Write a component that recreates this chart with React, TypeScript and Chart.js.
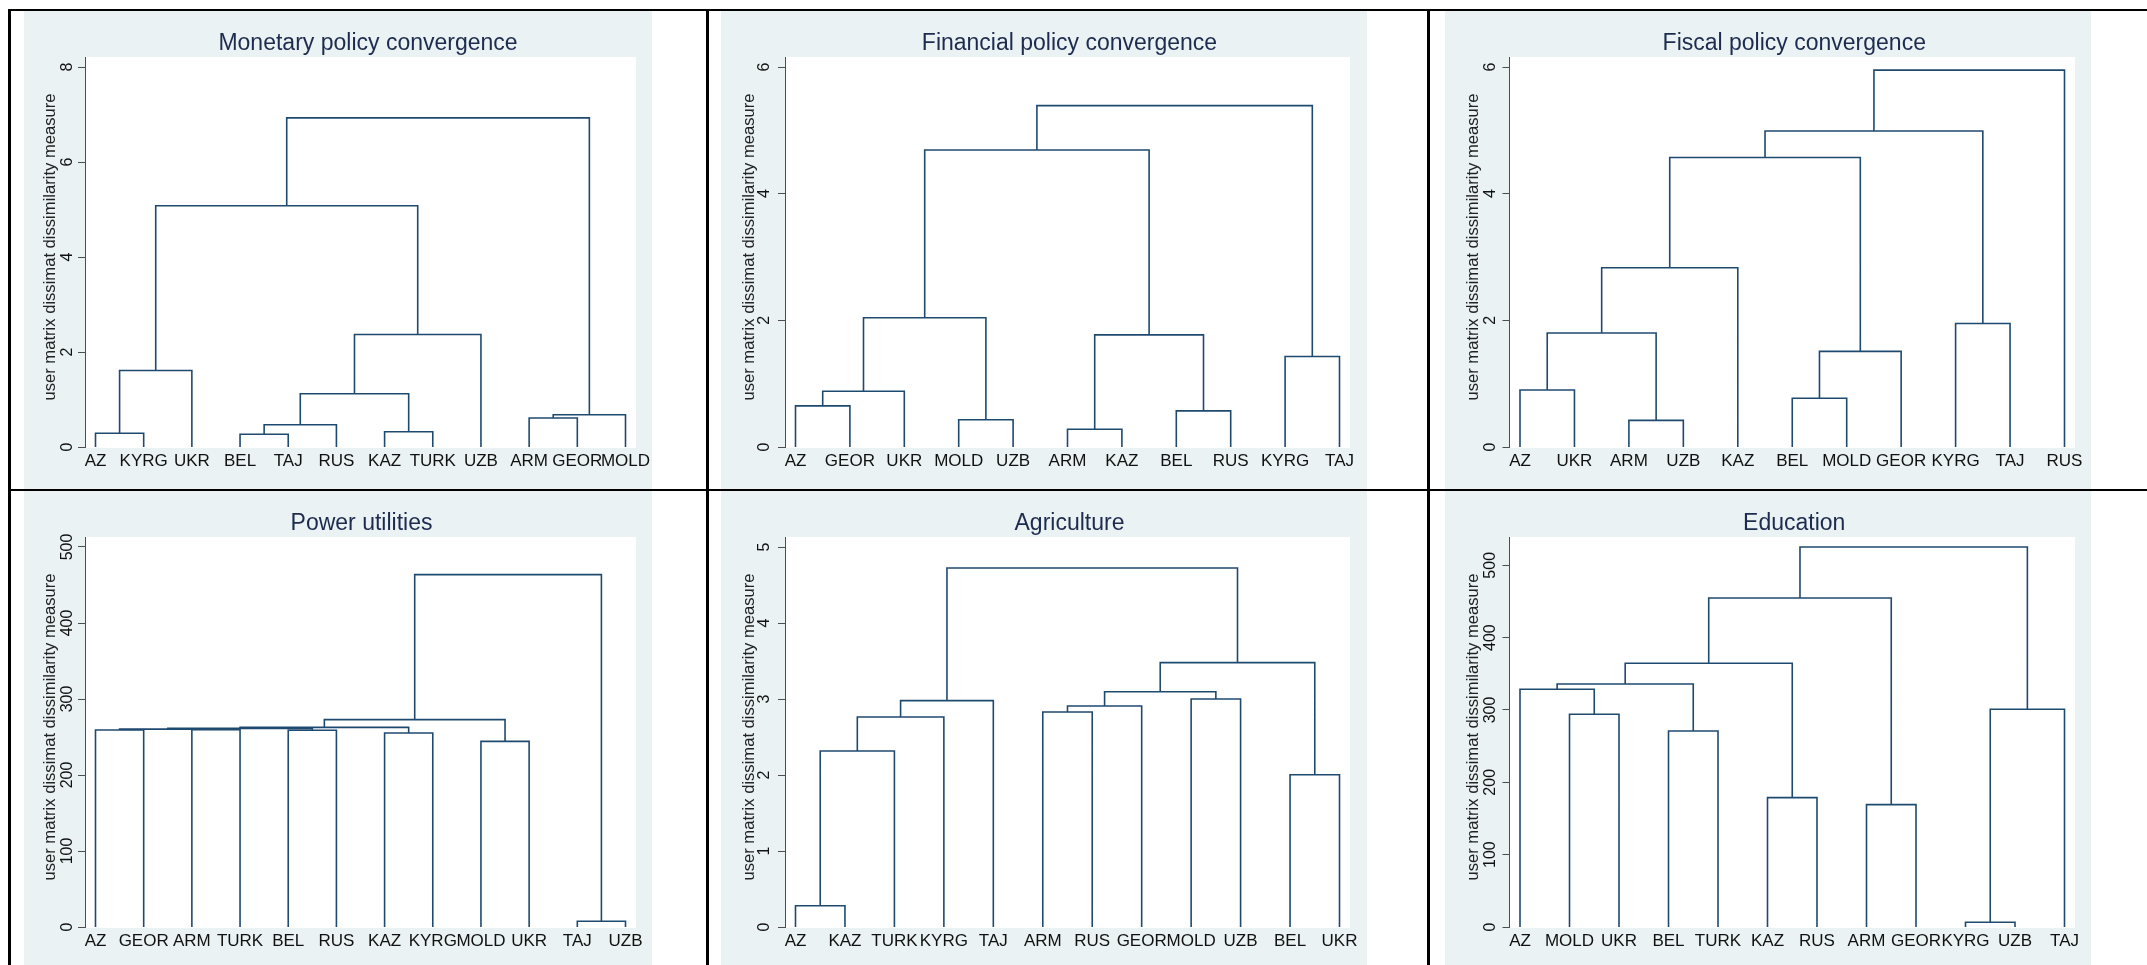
import React, { useEffect, useRef } from 'react';
import { Chart, registerables } from 'chart.js';

Chart.register(...registerables);

// ---------------- DATA ----------------
// merges: [leftNode, rightNode, height]; nodes 0..n-1 are leaves, node n+k is merge k
const monetaryLeaves = ['AZ', 'KYRG', 'UKR', 'BEL', 'TAJ', 'RUS', 'KAZ', 'TURK', 'UZB', 'ARM', 'GEOR', 'MOLD'];
const monetaryMerges = [
  [0, 1, 0.29], [12, 2, 1.61], [3, 4, 0.27], [14, 5, 0.47], [6, 7, 0.32], [15, 16, 1.12],
  [17, 8, 2.37], [13, 18, 5.08], [9, 10, 0.61], [20, 11, 0.68], [19, 21, 6.93],
];
const monetaryTicks = [0, 2, 4, 6, 8];

const financialLeaves = ['AZ', 'GEOR', 'UKR', 'MOLD', 'UZB', 'ARM', 'KAZ', 'BEL', 'RUS', 'KYRG', 'TAJ'];
const financialMerges = [
  [0, 1, 0.65], [11, 2, 0.88], [3, 4, 0.43], [12, 13, 2.04], [5, 6, 0.28], [7, 8, 0.57],
  [15, 16, 1.77], [14, 17, 4.69], [9, 10, 1.43], [18, 19, 5.39],
];
const financialTicks = [0, 2, 4, 6];

const fiscalLeaves = ['AZ', 'UKR', 'ARM', 'UZB', 'KAZ', 'BEL', 'MOLD', 'GEOR', 'KYRG', 'TAJ', 'RUS'];
const fiscalMerges = [
  [0, 1, 0.9], [2, 3, 0.42], [11, 12, 1.8], [13, 4, 2.83], [5, 6, 0.77], [15, 7, 1.51],
  [14, 16, 4.57], [8, 9, 1.95], [17, 18, 4.99], [19, 10, 5.95],
];
const fiscalTicks = [0, 2, 4, 6];

const powerLeaves = ['AZ', 'GEOR', 'ARM', 'TURK', 'BEL', 'RUS', 'KAZ', 'KYRG', 'MOLD', 'UKR', 'TAJ', 'UZB'];
const powerMerges = [
  [0, 1, 259.2], [2, 3, 259.6], [12, 13, 260.4], [4, 5, 258.8], [14, 15, 261.4], [6, 7, 255.3],
  [16, 17, 262.7], [8, 9, 244.3], [18, 19, 272.8], [10, 11, 7.5], [20, 21, 463.6],
];
const powerTicks = [0, 100, 200, 300, 400, 500];

const agriLeaves = ['AZ', 'KAZ', 'TURK', 'KYRG', 'TAJ', 'ARM', 'RUS', 'GEOR', 'MOLD', 'UZB', 'BEL', 'UKR'];
const agriMerges = [
  [0, 1, 0.28], [12, 2, 2.316], [13, 3, 2.763], [14, 4, 2.978], [5, 6, 2.829], [16, 7, 2.908],
  [8, 9, 3.0], [17, 18, 3.096], [10, 11, 2.004], [19, 20, 3.478], [15, 21, 4.724],
];
const agriTicks = [0, 1, 2, 3, 4, 5];

const eduLeaves = ['AZ', 'MOLD', 'UKR', 'BEL', 'TURK', 'KAZ', 'RUS', 'ARM', 'GEOR', 'KYRG', 'UZB', 'TAJ'];
const eduMerges = [
  [1, 2, 294], [0, 12, 328.6], [3, 4, 271], [13, 14, 336], [5, 6, 178.8], [15, 16, 364.5],
  [7, 8, 169.1], [17, 18, 454.8], [9, 10, 6.5], [20, 11, 301], [19, 21, 525.3],
];
const eduTicks = [0, 100, 200, 300, 400, 500];

const Y_TITLE = 'user matrix dissimat dissimilarity measure';

// ---------------- STYLE / LAYOUT ----------------
const FONT = '"Liberation Sans", Arial, Helvetica, sans-serif';
const BG = '#eaf2f3';
const LINE = '#1f4a70';
const AXIS = '#4d4d4d';
const TITLE_COLOR = '#1c2b4e';
const CANVAS_H = 478;
const AREA_TOP = 46;
const AREA_BOTTOM = 436;
const TITLE_BASELINE = 38.5;
const PAD_TOP_PX = 10;
const PAD_X_PX = 10.5;
const YAXIS_W = 10;

type Cfg = {
  title: string; leaves: string[]; merges: number[][]; ticks: number[];
  left: number; top: number; width: number; padL: number; padR: number;
  titleX: number; tickX: number; titleShift: number;
};

const colA = { left: 24, width: 628, padL: 61, padR: 16, titleX: 26.5, tickX: 44 };
const colB = { left: 721, width: 646, padL: 64, padR: 17, titleX: 28, tickX: 44 };
const colC = { left: 1445, width: 646, padL: 64.5, padR: 16, titleX: 28, tickX: 45.5 };
const ROW1 = 11;
const ROW2 = 491;

const PANELS: Cfg[] = [
  { title: 'Monetary policy convergence', leaves: monetaryLeaves, merges: monetaryMerges, ticks: monetaryTicks, top: ROW1, titleShift: 7.5, ...colA },
  { title: 'Financial policy convergence', leaves: financialLeaves, merges: financialMerges, ticks: financialTicks, top: ROW1, titleShift: 2, ...colB },
  { title: 'Fiscal policy convergence', leaves: fiscalLeaves, merges: fiscalMerges, ticks: fiscalTicks, top: ROW1, titleShift: 2, ...colC },
  { title: 'Power utilities', leaves: powerLeaves, merges: powerMerges, ticks: powerTicks, top: ROW2, titleShift: 1, ...colA },
  { title: 'Agriculture', leaves: agriLeaves, merges: agriMerges, ticks: agriTicks, top: ROW2, titleShift: 2, ...colB },
  { title: 'Education', leaves: eduLeaves, merges: eduMerges, ticks: eduTicks, top: ROW2, titleShift: 2, ...colC },
];

function DendroChart({ cfg }: { cfg: Cfg }) {
  const ref = useRef<HTMLCanvasElement>(null);
  useEffect(() => {
    if (!ref.current) return;
    const n = cfg.leaves.length;
    const xs: number[] = cfg.leaves.map((_, i) => i);
    const hs: number[] = cfg.leaves.map(() => 0);
    const pts: any[] = [];
    cfg.merges.forEach(([a, b, h]) => {
      pts.push({ x: xs[a], y: hs[a] }, { x: xs[a], y: h }, { x: xs[b], y: h }, { x: xs[b], y: hs[b] }, { x: null, y: null });
      xs.push((xs[a] + xs[b]) / 2);
      hs.push(h);
    });
    const dataMax = Math.max(...cfg.merges.map((m) => m[2]));
    const topVal = Math.max(dataMax, cfg.ticks[cfg.ticks.length - 1]);

    const decor = {
      id: 'decor',
      beforeDraw(chart: any) {
        const { ctx, chartArea: a } = chart;
        ctx.save();
        ctx.fillStyle = BG;
        ctx.fillRect(0, 0, chart.width, chart.height);
        ctx.fillStyle = '#ffffff';
        ctx.fillRect(a.left, a.top, a.right - a.left, a.bottom - a.top + 1);
        ctx.restore();
      },
      afterDraw(chart: any) {
        const { ctx, chartArea: a } = chart;
        const ys = chart.scales.y;
        ctx.save();
        // title
        ctx.fillStyle = TITLE_COLOR;
        ctx.textAlign = 'center';
        ctx.textBaseline = 'alphabetic';
        ctx.font = `23px ${FONT}`;
        ctx.fillText(cfg.title, (a.left + a.right) / 2 + cfg.titleShift, TITLE_BASELINE);
        // y tick labels (rotated)
        ctx.fillStyle = '#111111';
        ctx.textBaseline = 'middle';
        ctx.font = `16px ${FONT}`;
        cfg.ticks.forEach((t) => {
          ctx.save();
          ctx.translate(cfg.tickX, ys.getPixelForValue(t));
          ctx.rotate(-Math.PI / 2);
          ctx.fillText(String(t), 0, 0);
          ctx.restore();
        });
        // y axis title
        ctx.font = `16.6px ${FONT}`;
        ctx.fillStyle = '#222222';
        ctx.translate(cfg.titleX, (a.top + a.bottom) / 2 - 5);
        ctx.rotate(-Math.PI / 2);
        ctx.fillText(Y_TITLE, 0, 0);
        ctx.restore();
      },
    };

    const chart = new Chart(ref.current, {
      type: 'line',
      data: {
        datasets: [{
          data: pts,
          borderColor: LINE,
          borderWidth: 1.6,
          pointRadius: 0,
          pointHoverRadius: 0,
          tension: 0,
          fill: false,
          spanGaps: false,
          clip: false as any,
        }],
      },
      options: {
        animation: false,
        responsive: false,
        maintainAspectRatio: false,
        events: [],
        layout: { padding: { left: cfg.padL - YAXIS_W, right: cfg.padR, top: AREA_TOP, bottom: 0 } },
        plugins: {
          legend: { display: false },
          tooltip: { enabled: false },
          title: { display: false },
        },
        scales: {
          x: {
            type: 'linear',
            grid: { display: false, drawTicks: false },
            border: { display: false },
            ticks: {
              autoSkip: false,
              maxRotation: 0,
              minRotation: 0,
              padding: 4.3,
              color: '#111111',
              font: { family: FONT, size: 17 },
              callback: (v: any) => cfg.leaves[Math.round(Number(v))] ?? '',
            },
            afterBuildTicks: (scale: any) => {
              scale.ticks = cfg.leaves.map((_, i) => ({ value: i }));
              const sp = (scale.width - 2 * PAD_X_PX) / (n - 1);
              scale.min = -PAD_X_PX / sp;
              scale.max = n - 1 + PAD_X_PX / sp;
            },
            afterFit: (scale: any) => {
              scale.height = CANVAS_H - AREA_BOTTOM;
              scale.paddingLeft = 0;
              scale.paddingRight = 0;
            },
          },
          y: {
            type: 'linear',
            min: 0,
            max: topVal,
            grid: { display: true, drawOnChartArea: false, drawTicks: true, tickLength: 7, color: AXIS, lineWidth: 1 },
            border: { display: true, color: AXIS, width: 1 },
            ticks: { display: false },
            afterBuildTicks: (scale: any) => {
              scale.ticks = cfg.ticks.map((v) => ({ value: v }));
              const h = scale.height;
              scale.min = 0;
              scale.max = topVal * h / (h - PAD_TOP_PX);
            },
            afterFit: (scale: any) => {
              scale.width = YAXIS_W;
              scale.paddingTop = 0;
              scale.paddingBottom = 0;
            },
          },
        },
      } as any,
      plugins: [decor],
    });
    return () => chart.destroy();
  }, [cfg]);

  return (
    <canvas
      ref={ref}
      width={cfg.width}
      height={CANVAS_H}
      style={{ position: 'absolute', left: cfg.left, top: cfg.top, width: cfg.width, height: CANVAS_H }}
    />
  );
}

const lineStyle = (left: number, top: number, width: number, height: number): React.CSSProperties => ({
  position: 'absolute', left, top, width, height, background: '#000', zIndex: 2,
});

export default function App() {
  return (
    <div style={{ position: 'absolute', left: 0, top: 0, width: 2147, height: 965, overflow: 'hidden', background: '#fff' }}>
      {PANELS.map((p, i) => <DendroChart key={i} cfg={p} />)}
      <div style={lineStyle(8, 8.75, 2139, 2.5)} />
      <div style={lineStyle(8, 488.5, 2139, 2.5)} />
      <div style={lineStyle(8, 8.75, 2.5, 957)} />
      <div style={lineStyle(706, 8.75, 2.5, 957)} />
      <div style={lineStyle(1427.2, 8.75, 2.5, 957)} />
    </div>
  );
}
